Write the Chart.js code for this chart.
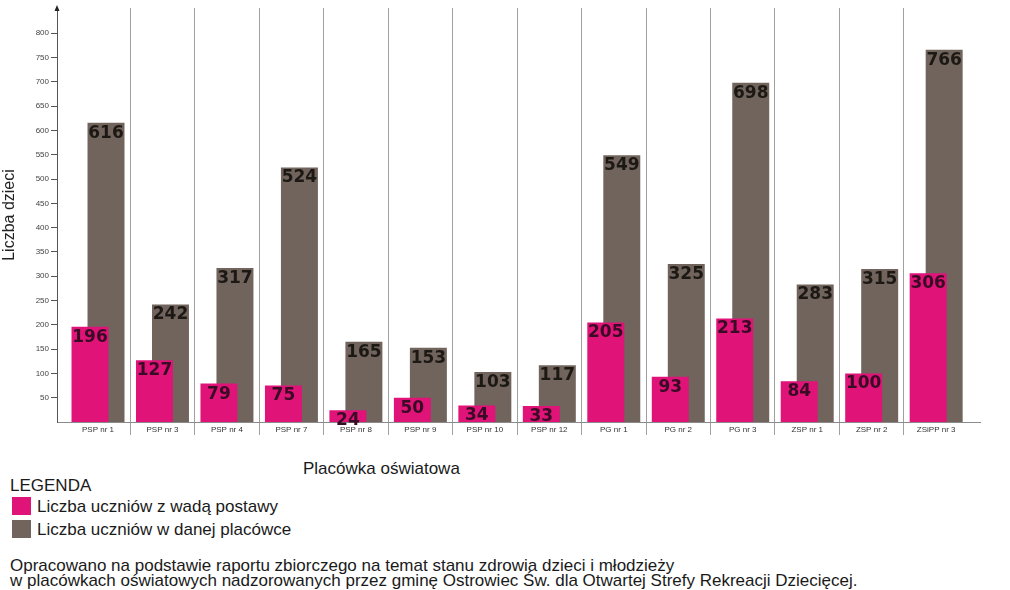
<!DOCTYPE html>
<html>
<head>
<meta charset="utf-8">
<script src="https://cdn.jsdelivr.net/npm/chart.js@4/dist/chart.umd.min.js"></script>
<style>
  body { margin: 0; background: #fff; font-family: 'Liberation Sans', Arial, sans-serif; color: #1a1a1a; }
  #wrap { position: relative; width: 1010px; height: 590px; }
  canvas { position: absolute; left: 0; top: 0; }
  .txt { position: absolute; white-space: nowrap; }
  .sq { position: absolute; width: 19px; height: 18px; }
</style>
</head>
<body>
<div id="wrap">
  <canvas id="chart" width="1010" height="445"></canvas>
  <div class="txt" style="left:303px; top:459px; font-size:17px;">Placówka oświatowa</div>
  <div class="txt" style="left:10px; top:476px; font-size:17px;">LEGENDA</div>
  <div class="sq" style="left:12px; top:497px; background:#df1378;"></div>
  <div class="txt" style="left:37px; top:497px; font-size:17px;">Liczba uczniów z wadą postawy</div>
  <div class="sq" style="left:12px; top:520px; background:#71645d;"></div>
  <div class="txt" style="left:37px; top:520px; font-size:17px;">Liczba uczniów w danej placówce</div>
  <div class="txt" style="left:10px; top:558px; font-size:17px; line-height:15px;">Opracowano na podstawie raportu zbiorczego na temat stanu zdrowia dzieci i młodzieży<br>w placówkach oświatowych nadzorowanych przez gminę Ostrowiec Św. dla Otwartej Strefy Rekreacji Dziecięcej.</div>
</div>
<script>
// dane z wykresu
const schools = ['PSP nr 1', 'PSP nr 3', 'PSP nr 4', 'PSP nr 7', 'PSP nr 8', 'PSP nr 9', 'PSP nr 10',
  'PSP nr 12', 'PG nr 1', 'PG nr 2', 'PG nr 3', 'ZSP nr 1', 'ZSP nr 2', 'ZSiPP nr 3'];
const withDefect = [196, 127, 79, 75, 24, 50, 34, 33, 205, 93, 213, 84, 100, 306];
const allPupils = [616, 242, 317, 524, 165, 153, 103, 117, 549, 325, 698, 283, 315, 766];
const yTicks = [50, 100, 150, 200, 250, 300, 350, 400, 450, 500, 550, 600, 650, 700, 750, 800];

const pink = '#df1378';
const brown = '#71645d';

// labels on top of bars
const barLabels = {
  id: 'barLabels',
  afterDatasetsDraw(chart) {
    const ctx = chart.ctx;
    ctx.save();
    ctx.font = 'bold 17px "DejaVu Sans", sans-serif';
    ctx.textAlign = 'center';
    ctx.textBaseline = 'top';
    [1, 0].forEach(i => {
      const meta = chart.getDatasetMeta(i);
      const ds = chart.data.datasets[i];
      ctx.fillStyle = i === 0 ? '#3a0b24' : '#1c1814';
      meta.data.forEach((bar, j) => {
        ctx.fillText(ds.data[j].y, bar.x, bar.y + 2);
      });
    });
    ctx.restore();
  }
};

// small arrow at top of y axis
const axisArrow = {
  id: 'axisArrow',
  afterDraw(chart) {
    const { ctx, chartArea } = chart;
    ctx.save();
    ctx.fillStyle = '#222';
    ctx.beginPath();
    ctx.moveTo(chartArea.left, chartArea.top - 3);
    ctx.lineTo(chartArea.left - 2.5, chartArea.top + 3);
    ctx.lineTo(chartArea.left + 2.5, chartArea.top + 3);
    ctx.closePath();
    ctx.fill();
    ctx.restore();
  }
};

new Chart(document.getElementById('chart'), {
  type: 'bar',
  data: {
    datasets: [{
      label: 'Liczba uczniów z wadą postawy',
      data: withDefect.map((v, i) => ({ x: i, y: v })),
      backgroundColor: pink,
      categoryPercentage: 0.993,
      barPercentage: 2.31
    }, {
      label: 'Liczba uczniów w danej placówce',
      data: allPupils.map((v, i) => ({ x: i, y: v })),
      backgroundColor: brown,
      categoryPercentage: 0.993,
      barPercentage: 2.31
    }]
  },
  options: {
    responsive: false,
    animation: false,
    layout: { padding: { top: 8, right: 30, left: 0, bottom: 0 } },
    plugins: {
      legend: { display: false },
      tooltip: { enabled: false }
    },
    scales: {
      x: {
        type: 'linear',
        offset: false,
        min: -0.636,
        max: 13.68,
        afterBuildTicks: (scale) => {
          const t = [];
          schools.forEach((s, k) => {
            t.push({ value: k });
            if (k < schools.length - 1) t.push({ value: k + 0.5 });
          });
          scale.ticks = t;
        },
        afterFit: (scale) => { scale.height = 23; },
        grid: {
          offset: false,
          color: (c) => (c.tick && c.tick.value % 1 !== 0) ? '#a0a0a0' : 'rgba(0,0,0,0)',
          tickColor: (c) => (c.tick && c.tick.value % 1 !== 0) ? '#a0a0a0' : 'rgba(0,0,0,0)',
          tickLength: 13
        },
        border: { display: true, color: '#8a8a8a' },
        ticks: {
          autoSkip: false,
          maxRotation: 0,
          padding: -10,
          color: '#333',
          font: { family: 'Liberation Sans', size: 8 },
          callback: (value) => Number.isInteger(value) ? schools[value] : ''
        }
      },
      y: {
        min: 0,
        max: 852,
        afterBuildTicks: (scale) => { scale.ticks = yTicks.map(v => ({ value: v })); },
        afterFit: (scale) => { scale.width = 57; },
        grid: { drawOnChartArea: false, tickLength: 6, tickColor: '#555' },
        border: { display: true, color: '#555' },
        ticks: {
          padding: 2,
          color: '#444',
          font: { family: 'Liberation Sans', size: 8 }
        },
        title: {
          display: true,
          text: 'Liczba dzieci',
          color: '#222',
          padding: { top: 0, bottom: 0 },
          font: { family: 'Liberation Sans', size: 16 }
        }
      }
    }
  },
  plugins: [barLabels, axisArrow]
});
</script>
</body>
</html>
